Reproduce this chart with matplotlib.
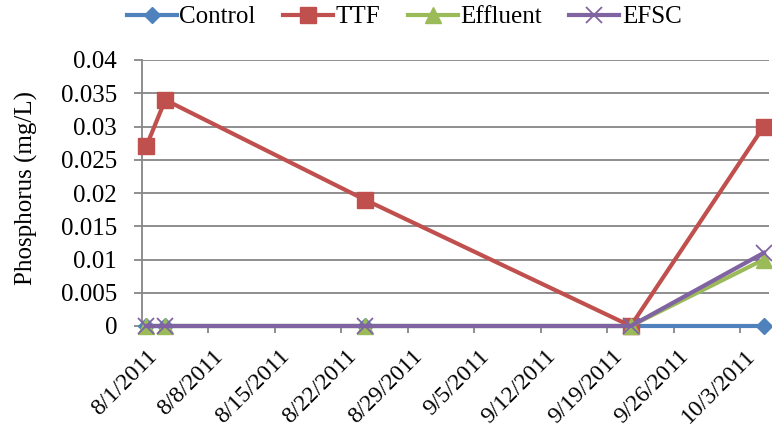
import matplotlib
matplotlib.use('Agg')
import matplotlib.pyplot as plt
import matplotlib.dates as mdates
import numpy as np
import datetime as dt

# sample dates and measured phosphorus (mg/L)
dates = ['2011-08-01', '2011-08-03', '2011-08-24', '2011-09-21', '2011-10-05']
control = [0, 0, 0, 0, 0]
ttf = [0.027, 0.034, 0.019, 0, 0.030]
effluent = [0, 0, 0, 0, 0.010]
efsc = [0, 0, 0, 0, 0.011]

tick_dates = ['2011-08-01', '2011-08-08', '2011-08-15', '2011-08-22', '2011-08-29',
              '2011-09-05', '2011-09-12', '2011-09-19', '2011-09-26', '2011-10-03']

plt.rcParams['font.family'] = ['Liberation Serif', 'DejaVu Serif']
FS = 18

def to_num(s):
    return mdates.date2num(dt.datetime.strptime(s, '%Y-%m-%d'))

# excel date axis puts each point in the middle of its day
x = np.array([to_num(d) for d in dates]) + 0.5
ticks = np.array([to_num(d) for d in tick_dates])

fig = plt.figure(figsize=(7.72, 4.29), dpi=100)
ax = fig.add_axes([141.5/772, 1 - 326/429, 627/772, 266/429])

ax.plot(x, control, color='#4F81BD', lw=3, marker='D', ms=8.5, label='Control', zorder=3, clip_on=False)
ax.plot(x, ttf, color='#C0504D', lw=3, marker='s', ms=12, label='TTF', zorder=4, clip_on=False)
ax.plot(x, effluent, color='#9BBB59', lw=3, marker='^', ms=12, label='Effluent', zorder=5, clip_on=False)
ax.plot(x, efsc, color='#8064A2', lw=3, marker='x', ms=11, mew=1.3, label='EFSC', zorder=6, clip_on=False)

ax.set_xlim(to_num('2011-08-01'), to_num('2011-10-06'))
ax.set_ylim(0, 0.04)
ax.set_yticks(np.arange(0, 0.0401, 0.005))
ax.set_yticklabels(['0', '0.005', '0.01', '0.015', '0.02', '0.025', '0.03', '0.035', '0.04'])

# tick marks on week boundaries, labels centred in the day slot like excel
ax.set_xticks(ticks)
ax.set_xticklabels([])
ax.set_xticks(ticks + 0.5, minor=True)
ax.set_xticklabels([f'{int(d[5:7])}/{int(d[8:10])}/2011' for d in tick_dates], minor=True,
                   rotation=45, ha='right', va='top', rotation_mode='anchor')

ax.grid(axis='y', color='#868686', lw=1.3)
ax.set_axisbelow(True)
for s in ['top', 'right']:
    ax.spines[s].set_visible(False)
for s in ['left', 'bottom']:
    ax.spines[s].set_color('#868686')
    ax.spines[s].set_linewidth(1.3)
ax.tick_params(axis='y', colors='#868686', labelcolor='black', labelsize=FS, length=6, width=1.3, pad=11.5)
ax.tick_params(axis='x', which='major', colors='#868686', length=5, width=1.3)
ax.tick_params(axis='x', which='minor', length=0, labelsize=17, labelcolor='black', pad=14)

ax.set_ylabel('Phosphorus (mg/L)', fontsize=FS)
ax.yaxis.set_label_coords((38 - 141.5) / 627, 0.52)

fig.legend(loc='center', bbox_to_anchor=(404/772, 1 - 17/429), ncol=4, frameon=False,
           fontsize=FS, handlelength=2.0, handletextpad=0.1, columnspacing=1.1,
           borderaxespad=0, borderpad=0)

fig.savefig('out.png', dpi=100)
